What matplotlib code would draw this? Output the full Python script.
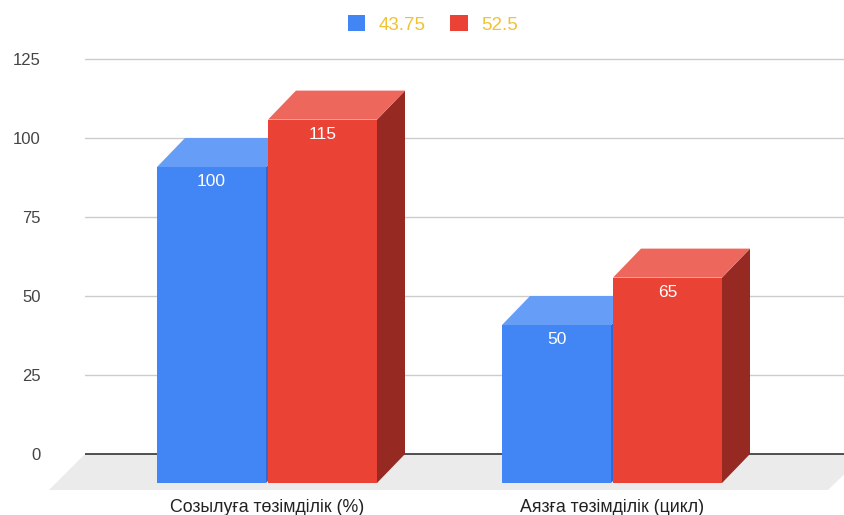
import matplotlib.pyplot as plt
from matplotlib.patches import Polygon, Patch

categories = ['Созылуға төзімділік (%)', 'Аязға төзімділік (цикл)']
series_names = ['43.75', '52.5']
values = [[100, 50], [115, 65]]  # per series
yticks = [0, 25, 50, 75, 100, 125]

front_cols = ['#4285f4', '#ea4335']
top_cols = ['#669df6', '#ee675c']
side_cols = ['#3367d6', '#962a23']

plt.rcParams['font.family'] = ['Liberation Sans', 'DejaVu Sans']

# pixel scale of the picture
PXU = 345.0   # px per category step
PXV = 3.16    # px per value unit
dx = -28 / PXU   # depth shift to the front face
dv = -29 / PXV
w = 109 / PXU
gap = 2 / PXU

fig = plt.figure(figsize=(8.44, 5.15), dpi=100)
ax = fig.add_axes([85 / 844, 0, (844 - 85) / 844, 1])
ax.set_xlim(-210 / PXU, 549 / PXU)
ax.set_ylim(-61 / PXV, 454 / PXV)

# floor
fd = -36 / PXV
floor = Polygon([(-210 / PXU, 0), (570 / PXU, 0), (533 / PXU, fd), (-246 / PXU, fd)],
                closed=True, facecolor='#ebebeb', edgecolor='none', zorder=0, clip_on=False)
ax.add_patch(floor)

for t in yticks[1:]:
    ax.axhline(t, color='#cccccc', lw=1, zorder=1)
ax.axhline(0, color='#333333', lw=1.2, zorder=1)

z = 2
for i in range(len(categories)):
    for j in range(len(series_names)):
        v = values[j][i]
        xc = i + (j - 0.5) * (w + gap)
        xl, xr = xc - w / 2, xc + w / 2
        side = Polygon([(xr + dx, dv), (xr, 0), (xr, v), (xr + dx, v + dv)],
                       closed=True, facecolor=side_cols[j], edgecolor='none', zorder=z)
        top = Polygon([(xl + dx, v + dv), (xr + dx, v + dv), (xr, v), (xl, v)],
                      closed=True, facecolor=top_cols[j], edgecolor='none', zorder=z)
        ax.add_patch(side)
        ax.add_patch(top)
        ax.bar(xc + dx, v, bottom=dv, width=w, color=front_cols[j], zorder=z + 1,
               clip_on=False)
        ax.text(xc + dx, v + dv - 15 / PXV, str(v), color='white', fontsize=12.5,
                ha='center', va='center', zorder=z + 2)
        z += 3

for i, c in enumerate(categories):
    ax.text(i + dx, -53 / PXV, c, ha='center', va='center', fontsize=12.8,
            color='#222222')

ax.set_yticks(yticks)
ax.set_yticklabels([str(t) for t in yticks], color='#444444', fontsize=12)
ax.tick_params(axis='y', length=0, pad=32)
ax.set_xticks([])
for s in ax.spines.values():
    s.set_visible(False)
ax.patch.set_alpha(0)

handles = [Patch(facecolor=c, edgecolor='none') for c in front_cols]
leg = fig.legend(handles, series_names, loc='upper center', bbox_to_anchor=(0.513, 1.0),
                 ncol=2, frameon=False, fontsize=13.5, handlelength=0.95, handleheight=0.95,
                 handletextpad=0.72, columnspacing=1.3, borderaxespad=0.4)
for txt in leg.get_texts():
    txt.set_color('#f1c232')

fig.savefig('out.png', dpi=100)
